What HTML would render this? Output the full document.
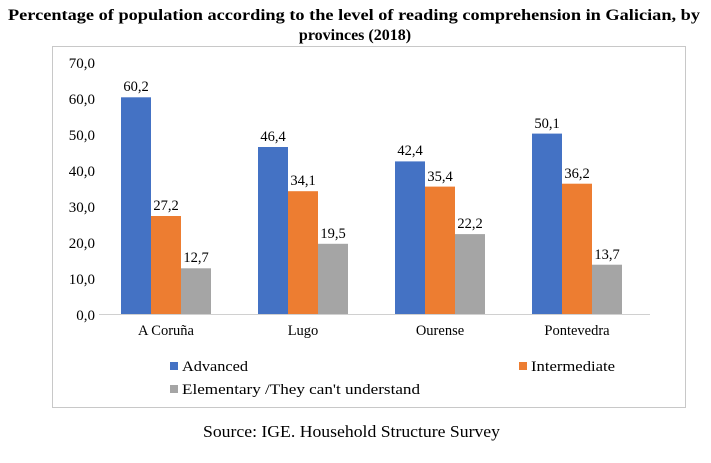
<!DOCTYPE html>
<html><head><meta charset="utf-8"><style>
body{margin:0;background:#fff;}
svg{display:block;font-family:"Liberation Serif",serif;}
</style></head><body>
<svg width="711" height="463" xmlns="http://www.w3.org/2000/svg">
<text x="8" y="20" font-size="16" font-weight="bold" textLength="692" lengthAdjust="spacingAndGlyphs">Percentage of population according to the level of reading comprehension in Galician, by</text>
<text x="355" y="40" text-anchor="middle" font-size="16" font-weight="bold">provinces (2018)</text>
<rect x="52.5" y="46.5" width="633" height="361" fill="none" stroke="#c8c8c8"/>
<g font-size="15" text-anchor="end" fill="#000">
<text x="95" y="68">70,0</text><text x="95" y="104">60,0</text><text x="95" y="140">50,0</text><text x="95" y="176">40,0</text><text x="95" y="212">30,0</text><text x="95" y="248">20,0</text><text x="95" y="284">10,0</text><text x="95" y="320">0,0</text>
</g>
<line x1="99" y1="314.5" x2="650" y2="314.5" stroke="#d0d0d0"/>
<g>
<rect x="121" y="97.3" width="30" height="216.7" fill="#4472c4"/>
<rect x="151" y="216" width="30" height="98" fill="#ed7d31"/>
<rect x="181" y="268.3" width="30" height="45.7" fill="#a5a5a5"/>
<rect x="258" y="147" width="30" height="167" fill="#4472c4"/>
<rect x="288" y="191.2" width="30" height="122.8" fill="#ed7d31"/>
<rect x="318" y="243.8" width="30" height="70.2" fill="#a5a5a5"/>
<rect x="395" y="161.4" width="30" height="152.6" fill="#4472c4"/>
<rect x="425" y="186.6" width="30" height="127.4" fill="#ed7d31"/>
<rect x="455" y="234.1" width="30" height="79.9" fill="#a5a5a5"/>
<rect x="532" y="133.6" width="30" height="180.4" fill="#4472c4"/>
<rect x="562" y="183.7" width="30" height="130.3" fill="#ed7d31"/>
<rect x="592" y="264.7" width="30" height="49.3" fill="#a5a5a5"/>
</g>
<g font-size="14.5" text-anchor="middle">
<text x="136" y="91">60,2</text><text x="166" y="210">27,2</text><text x="196" y="262">12,7</text>
<text x="273" y="141">46,4</text><text x="303" y="185">34,1</text><text x="333" y="238">19,5</text>
<text x="410" y="155">42,4</text><text x="440" y="181">35,4</text><text x="470" y="228">22,2</text>
<text x="547" y="128">50,1</text><text x="577" y="178">36,2</text><text x="607" y="259">13,7</text>
</g>
<g font-size="14.5" text-anchor="middle">
<text x="166" y="335">A Coruña</text><text x="303" y="335">Lugo</text><text x="440" y="335">Ourense</text><text x="577" y="335">Pontevedra</text>
</g>
<g font-size="15">
<rect x="170" y="362" width="8" height="8" fill="#4472c4"/><text x="182" y="371" textLength="66" lengthAdjust="spacingAndGlyphs">Advanced</text>
<rect x="519" y="362" width="8" height="8" fill="#ed7d31"/><text x="531" y="371" textLength="84" lengthAdjust="spacingAndGlyphs">Intermediate</text>
<rect x="170" y="385" width="8" height="8" fill="#a5a5a5"/><text x="182" y="394" textLength="238" lengthAdjust="spacingAndGlyphs">Elementary /They can't understand</text>
</g>
<text x="203" y="437" font-size="16.5" textLength="297" lengthAdjust="spacingAndGlyphs">Source: IGE. Household Structure Survey</text>
</svg>
</body></html>
